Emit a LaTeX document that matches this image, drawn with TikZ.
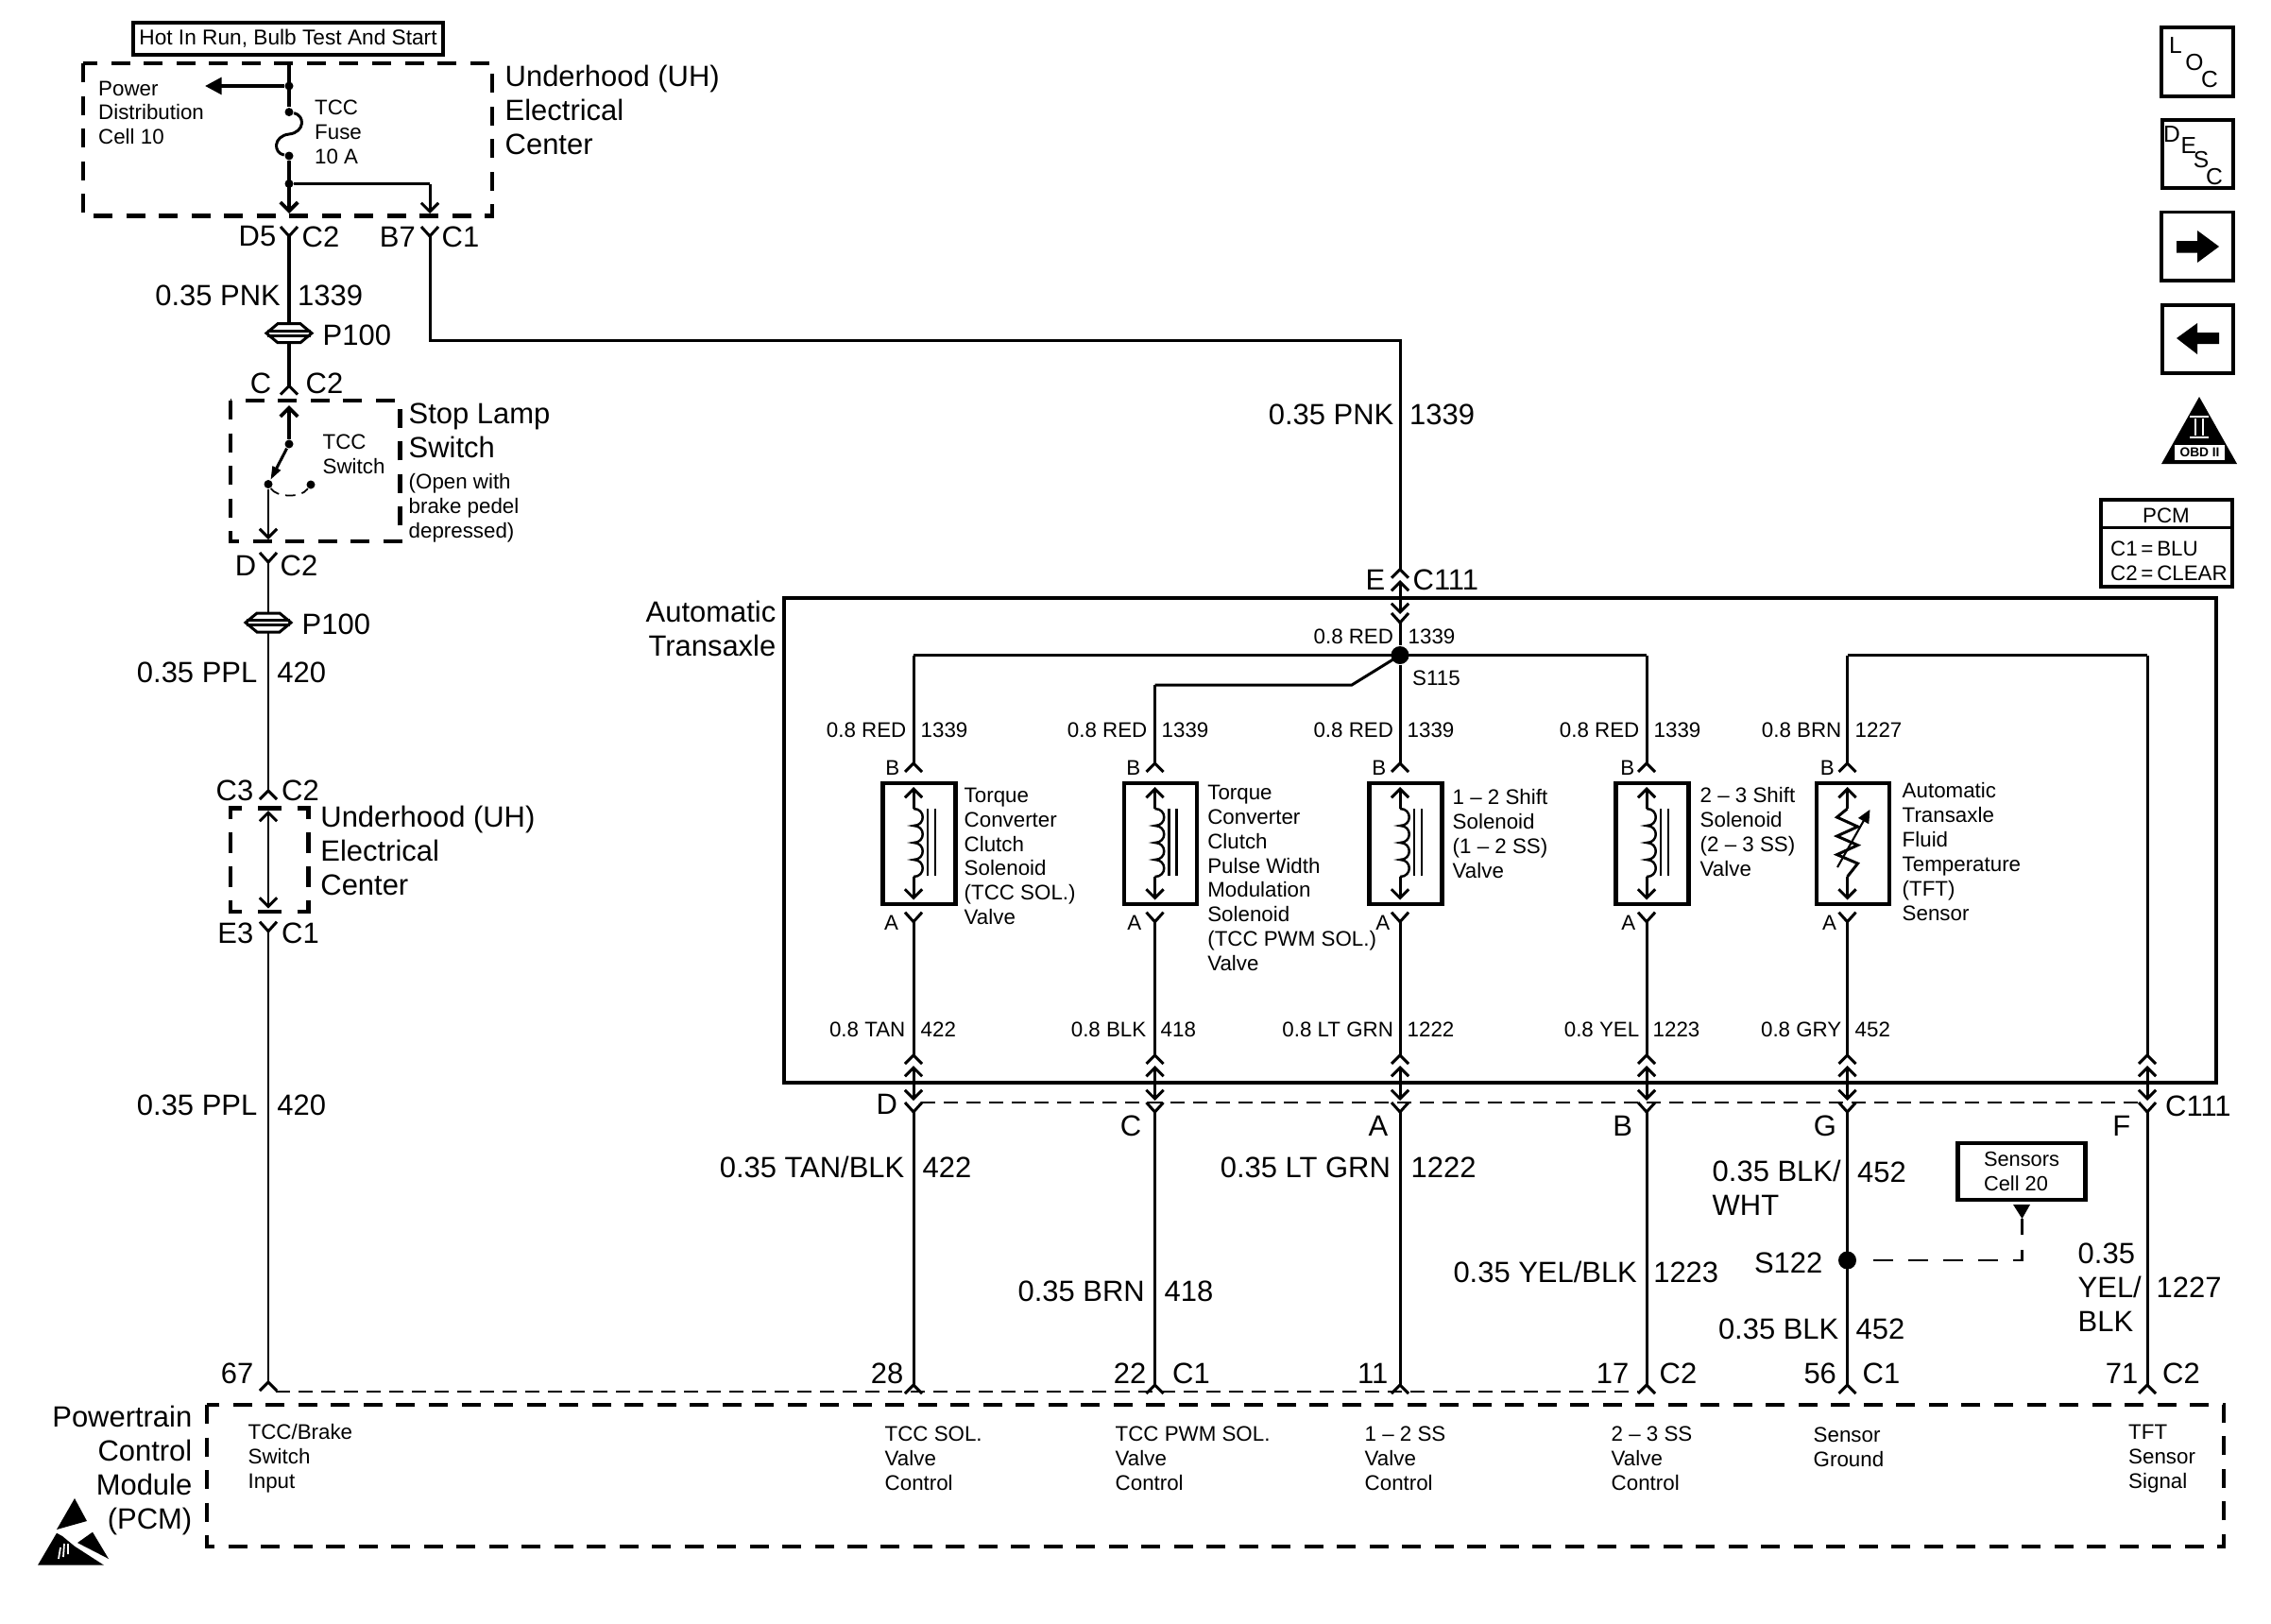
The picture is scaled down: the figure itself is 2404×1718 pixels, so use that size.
\documentclass[tikz,border=0pt]{standalone}
\usepackage{fontspec}
\setmainfont{Liberation Sans}
\usetikzlibrary{arrows.meta, positioning}

\tikzset{
    wire/.style={line width=0.85pt},
    buswire/.style={line width=1.1pt},
    thindash/.style={line width=0.55pt, dash pattern=on 0.15cm off 0.09cm},
    heavydash/.style={line width=1.35pt, dash pattern=on 0.2cm off 0.145cm},
    stubdash/.style={line width=0.75pt, dash pattern=on 0.21cm off 0.16cm},
    heavybox/.style={draw, line width=1.2pt, inner sep=0pt},
    smalltxt/.style={inner sep=0pt, yshift=-0.4pt, align=left, font=\fontsize{6.35}{7.35}\selectfont},
    bigtxt/.style={inner sep=0pt, yshift=-0.4pt, align=left, font=\fontsize{8.8}{10.2}\selectfont},
    icontxt/.style={inner sep=0pt, font=\fontsize{7}{8}\selectfont},
    opentip/.style={-{Straight Barb[length=2.6pt,width=5.2pt]}},
    bothtip/.style={{Straight Barb[length=2.6pt,width=5.2pt]}-{Straight Barb[length=2.6pt,width=5.2pt]}},
    solidtip/.style={-{Triangle[length=5pt,width=5pt]}},
    bladetip/.style={-{Triangle[length=4pt,width=2.6pt]}},
    dotjoin/.style={circle, fill, inner sep=0pt, minimum size=0.09cm},
    splicedot/.style={circle, fill, inner sep=0pt, minimum size=0.19cm},
    solbox/.style={heavybox, minimum width=0.77cm, minimum height=1.28cm},
    plugnode/.style={inner sep=0pt, minimum width=0.48cm, minimum height=0.2cm},
    chevtop/.pic={\draw[wire] (-9,9) -- (0,0) -- (9,9);},
    chevjoin/.pic={\draw[wire] (-9,-10) -- (0,0) -- (9,-10);},
    plugsym/.pic={
        \draw[wire] (-12,-10) -- (12,-10) -- (24,0) -- (12,10) -- (-12,10) -- (-24,0) -- cycle;
        \draw[wire] (-23,-2.5) -- (23,-2.5) (-23,2.5) -- (23,2.5);
    },
    solcoil/.pic={
        \draw[line width=0.7pt] (0,0) .. controls (13,0) and (13,18) .. (0,18)
            .. controls (13,18) and (13,36) .. (0,36)
            .. controls (13,36) and (13,54) .. (0,54)
            .. controls (13,54) and (13,72) .. (0,72);
        \draw[line width=0.7pt] (15,0) -- (15,71) (23,0) -- (23,71);
    }
}

\begin{document}
\begin{tikzpicture}[x=0.01cm, y=-0.01cm]
    \useasboundingbox (0,0) rectangle (2404,1718);

    % underhood fuse block
    \node[heavybox, minimum width=3.28cm, minimum height=0.34cm, font=\fontsize{6.45}{7.35}\selectfont] (hotlabel) at (305,41) {Hot In Run, Bulb Test And Start};
    \draw[heavydash] (88,67) rectangle (521,228.5);
    \coordinate (fusetop) at (306,67);
    \node[dotjoin] (powerjoin) at (306,91) {};
    \coordinate (powertip) at (217,91);
    \node[dotjoin] (fusea) at (306,118.6) {};
    \node[dotjoin] (fuseb) at (306,165) {};
    \node[dotjoin] (branchjoin) at (306,194.5) {};
    \coordinate (branchcorner) at (455,194.5);
    \coordinate (d5tip) at (306,226);
    \coordinate (b7tip) at (455,226);
    \coordinate (d5y) at (306,250);
    \coordinate (b7y) at (455,250);
    \draw[buswire] (fusetop) -- (fusea);
    \draw[buswire, solidtip] (powerjoin) -- (powertip);
    \draw[wire] (fusea) .. controls (323,122) and (323,140) .. (306,142) .. controls (289,144) and (289,162) .. (fuseb);
    \draw[buswire, opentip] (fuseb) -- (d5tip);
    \draw[wire] (branchjoin) -- (branchcorner);
    \draw[wire, opentip] (branchcorner) -- (b7tip);
    \pic at (d5y) {chevjoin};
    \pic at (b7y) {chevjoin};
    \node[smalltxt, anchor=west] (powerlabel) at (103.5,118) {Power\\Distribution\\Cell 10};
    \node[smalltxt, anchor=west] (fuselabel) at (332.5,138.5) {TCC\\Fuse\\10 A};
    \node[bigtxt, anchor=west] (uhlabel) at (534,115) {Underhood (UH)\\Electrical\\Center};
    \node[bigtxt, anchor=east] (lblD5) at (293,249) {D5};
    \node[bigtxt, anchor=west] (lblC2a) at (319,249) {C2};
    \node[bigtxt, anchor=east] (lblB7) at (440.5,249) {B7};
    \node[bigtxt, anchor=west] (lblC1a) at (467,249) {C1};

    % stop lamp switch
    \node[bigtxt, anchor=east] (lblPnk) at (297.5,311) {0.35 PNK};
    \node[bigtxt, anchor=west] (lblPnkNo) at (314.5,311) {1339};
    \node[plugnode] (plugA) at (306,352.7) {};
    \pic at (plugA) {plugsym};
    \node[bigtxt, anchor=west] (lblPlugA) at (341,353) {P100};
    \coordinate (capC) at (306,408.5);
    \draw[buswire] (d5y) -- (plugA.north);
    \draw[buswire] (plugA.south) -- (capC);
    \pic at (capC) {chevtop};
    \node[bigtxt, anchor=east] (lblC) at (288,404) {C};
    \node[bigtxt, anchor=west] (lblC2b) at (323,404) {C2};
    \draw[heavydash] (244,424) rectangle (423.5,573);
    \coordinate (swtip) at (306,429);
    \node[dotjoin] (swpivot) at (306,470) {};
    \node[dotjoin] (swclosed) at (284,512.5) {};
    \node[dotjoin] (swopen) at (329,513) {};
    \coordinate (swouttip) at (284,571);
    \coordinate (dy) at (284,595);
    \draw[buswire, opentip] (swpivot) -- (swtip);
    \draw[wire, bladetip] (swpivot) -- (swclosed);
    \draw[wire, opentip] (swclosed) -- (swouttip);
    \draw[line width=0.5pt, densely dashed] (swclosed) .. controls (292,526) and (318,528) .. (swopen);
    \pic at (dy) {chevjoin};
    \node[smalltxt, anchor=west] (switchlabel) at (341,479) {TCC\\Switch};
    \node[bigtxt, anchor=west] (stoplabel) at (432,454) {Stop Lamp\\Switch};
    \node[smalltxt, anchor=west] (openlabel) at (432,536) {(Open with\\brake pedel\\depressed)};
    \node[bigtxt, anchor=east] (lblD) at (272,597) {D};
    \node[bigtxt, anchor=west] (lblC2c) at (296,597) {C2};

    % second underhood block
    \node[plugnode] (plugB) at (284,659) {};
    \pic at (plugB) {plugsym};
    \node[bigtxt, anchor=west] (lblPlugB) at (319,659) {P100};
    \node[bigtxt, anchor=east] (lblPplA) at (273,710) {0.35 PPL};
    \node[bigtxt, anchor=west] (lblPplNoA) at (292.7,710) {420};
    \coordinate (capC3) at (284,837);
    \draw[wire] (dy) -- (plugB.north);
    \draw[wire] (plugB.south) -- (capC3);
    \pic at (capC3) {chevtop};
    \node[bigtxt, anchor=east] (lblC3) at (269,835) {C3};
    \node[bigtxt, anchor=west] (lblC2d) at (297.5,835) {C2};
    \coordinate (uhtoptip) at (284,858);
    \coordinate (uhbottip) at (284,961.5);
    \draw[wire, bothtip] (uhtoptip) -- (uhbottip);
    \draw[line width=1.35pt] (244,867) -- (244,855.5) -- (256,855.5) (273,855.5) -- (297.5,855.5) (314.5,855.5) -- (326.6,855.5) -- (326.6,867)
        (244,880.6) -- (244,903) (244,916.8) -- (244,939) (326.6,880.6) -- (326.6,903) (326.6,916.8) -- (326.6,939)
        (244,953) -- (244,965) -- (256,965) (273,965) -- (297.5,965) (314.5,965) -- (326.6,965) -- (326.6,953);
    \node[bigtxt, anchor=west] (uhlabelb) at (338.7,899) {Underhood (UH)\\Electrical\\Center};
    \coordinate (e3y) at (284,985.7);
    \pic at (e3y) {chevjoin};
    \node[bigtxt, anchor=east] (lblE3) at (269,986) {E3};
    \node[bigtxt, anchor=west] (lblC1b) at (297.5,986) {C1};
    \coordinate (cap67) at (284,1463);
    \draw[wire] (e3y) -- (cap67);
    \pic at (cap67) {chevtop};
    \node[bigtxt, anchor=east] (lblPplB) at (273,1168) {0.35 PPL};
    \node[bigtxt, anchor=west] (lblPplNoB) at (292.7,1168) {420};
    \node[bigtxt, anchor=east] (lbl67) at (269,1452.7) {67};

    % transaxle and feed
    \draw[line width=1.3pt] (830,633) rectangle (2346,1146);
    \node[bigtxt, anchor=east, align=right] (axlelabel) at (822,664) {Automatic\\Transaxle};
    \coordinate (feedcorner) at (455,360);
    \coordinate (feedturn) at (1482,360);
    \coordinate (capE) at (1482,602.7);
    \coordinate (etiptop) at (1482,614);
    \coordinate (etipbot) at (1482,650);
    \coordinate (ey) at (1482,659);
    \node[splicedot] (s115) at (1482,693.5) {};
    \draw[wire] (b7y) -- (feedcorner) -- (feedturn) -- (capE);
    \pic at (capE) {chevtop};
    \draw[wire, bothtip] (etiptop) -- (etipbot);
    \pic at (ey) {chevjoin};
    \draw[wire] (ey) -- (s115);
    \node[bigtxt, anchor=east] (lblFeed) at (1476,437) {0.35 PNK};
    \node[bigtxt, anchor=west] (lblFeedNo) at (1491.5,437) {1339};
    \node[bigtxt, anchor=east] (lblE) at (1467,612) {E};
    \node[bigtxt, anchor=west] (lblC111a) at (1495,612) {C111};
    \node[smalltxt, anchor=east] (lblRedTop) at (1475.7,672.6) {0.8 RED};
    \node[smalltxt, anchor=west] (lblRedTopNo) at (1490,672.6) {1339};
    \node[smalltxt, anchor=west] (lblS115) at (1494.5,716) {S115};

    % solenoid columns
    \foreach \s/\cx in {a/967,b/1222.5,c/1482,d/1743,e/1955.5} {
        \node[solbox] (box\s) at (\cx+6,893) {};
        \coordinate (capB\s) at (\cx,808);
        \coordinate (tipB\s) at (\cx,833);
        \coordinate (coil\s) at (\cx,856);
        \coordinate (coilend\s) at (\cx,928);
        \coordinate (tipA\s) at (\cx,952.5);
        \coordinate (yA\s) at (\cx,975.7);
        \pic at (capB\s) {chevtop};
        \pic at (yA\s) {chevjoin};
        \draw[wire, opentip] (coil\s) -- (tipB\s);
        \draw[wire, opentip] (coilend\s) -- (tipA\s);
    }
    \foreach \s in {a,b,c,d} {
        \pic at (coil\s) {solcoil};
    }
    \coordinate (topa) at (967,693.5);
    \coordinate (topd) at (1743,693.5);
    \coordinate (tope) at (1955.5,693.5);
    \coordinate (topf) at (2273,693.5);
    \coordinate (topb) at (1222.5,725);
    \coordinate (kneeb) at (1431,725);
    \draw[buswire] (topa) -- (topd);
    \draw[buswire] (tope) -- (topf);
    \draw[wire] (topa) -- (capBa);
    \draw[wire] (topd) -- (capBd);
    \draw[wire] (tope) -- (capBe);
    \draw[wire] (s115) -- (capBc);
    \draw[wire] (s115.center) -- (kneeb) -- (topb);
    \draw[wire] (topb) -- (capBb);

    % sensor element
    \draw[wire] (coile) -- ++(-11,9) -- ++(22,10) -- ++(-22,10) -- ++(22,9.6) -- ++(-22,10) -- ++(22,9.4) -- (coilende);
    \draw[line width=0.6pt, -{Triangle[length=4pt,width=3.5pt]}] (1945,918) -- (1979.5,856.8);

    % C111 row
    \foreach \s/\cx in {a/967,b/1222.5,c/1482,d/1743,e/1955.5,f/2273} {
        \coordinate (cap\s) at (\cx,1117);
        \coordinate (tipup\s) at (\cx,1128);
        \coordinate (tipdn\s) at (\cx,1165);
        \coordinate (yB\s) at (\cx,1177);
        \coordinate (pin\s) at (\cx,1466);
        \pic at (cap\s) {chevtop};
        \pic at (yB\s) {chevjoin};
        \pic at (pin\s) {chevtop};
        \draw[wire, bothtip] (tipup\s) -- (tipdn\s);
    }
    \foreach \s in {a,b,c,d,e} {
        \draw[wire] (yA\s) -- (cap\s);
    }
    \foreach \s in {a,b,c,d,e,f} {
        \draw[wire] (yB\s) -- (pin\s);
    }
    \draw[wire] (topf) -- (capf);
    \coordinate (c111left) at (975,1167);
    \coordinate (c111right) at (2264,1167);
    \coordinate (pcmdashl) at (292,1473);
    \coordinate (pcmdashr) at (1734,1473);
    \draw[thindash] (c111left) -- (c111right);
    \draw[thindash] (pcmdashl) -- (pcmdashr);

    % wire labels inside the transaxle
    \foreach \n/\lx/\rx/\ly/\ltxt/\rtxt in {
        ra/960/974/771/0.8 RED/1339, rb/1215/1229/771/0.8 RED/1339, rc/1475.6/1489/771/0.8 RED/1339,
        rd/1736/1750/771/0.8 RED/1339, re/1950/1963/771/0.8 BRN/1227,
        la/959/974/1088/0.8 TAN/422, lb/1214/1228/1088/0.8 BLK/418, lc/1475.6/1489/1088/0.8 LT GRN/1222,
        ld/1736/1749/1088/0.8 YEL/1223, le/1950/1963/1088/0.8 GRY/452} {
        \node[smalltxt, anchor=east] (wl\n) at (\lx,\ly) {\ltxt};
        \node[smalltxt, anchor=west] (wn\n) at (\rx,\ly) {\rtxt};
    }
    \foreach \n/\bx/\ax/\ay in {a/953/951.6/975.7, b/1208/1209/975.7, c/1468/1472/975.7, d/1731/1732/975.7, e/1942.5/1944.6/975.7} {
        \node[smalltxt, anchor=east] (pinB\n) at (\bx,811) {B};
        \node[smalltxt, anchor=east] (pinA\n) at (\ax,\ay) {A};
    }
    \node[smalltxt, anchor=west] (txta) at (1020,905) {Torque\\Converter\\Clutch\\Solenoid\\(TCC SOL.)\\Valve};
    \node[smalltxt, anchor=west] (txtb) at (1277.6,928) {Torque\\Converter\\Clutch\\Pulse Width\\Modulation\\Solenoid\\(TCC PWM SOL.)\\Valve};
    \node[smalltxt, anchor=west] (txtc) at (1537,881) {1 -- 2 Shift\\Solenoid\\(1 -- 2 SS)\\Valve};
    \node[smalltxt, anchor=west] (txtd) at (1799,879) {2 -- 3 Shift\\Solenoid\\(2 -- 3 SS)\\Valve};
    \node[smalltxt, anchor=west] (txte) at (2013,900) {Automatic\\Transaxle\\Fluid\\Temperature\\(TFT)\\Sensor};

    % labels between C111 and the PCM
    \foreach \n/\px/\py/\ptxt in {a/950.7/1167/D, b/1209/1190/C, c/1470/1190/A, d/1728.7/1190/B, e/1944.6/1190/G, f/2256/1190/F} {
        \node[bigtxt, anchor=east] (lblpin\n) at (\px,\py) {\ptxt};
    }
    \node[bigtxt, anchor=west] (lblC111b) at (2291.5,1169) {C111};
    \node[bigtxt, anchor=east] (lblTan) at (958,1234) {0.35 TAN/BLK};
    \node[bigtxt, anchor=west] (lblTanNo) at (976,1234) {422};
    \node[bigtxt, anchor=east] (lblBrn) at (1212.5,1365) {0.35 BRN};
    \node[bigtxt, anchor=west] (lblBrnNo) at (1232,1365) {418};
    \node[bigtxt, anchor=east] (lblGrn) at (1472.6,1234) {0.35 LT GRN};
    \node[bigtxt, anchor=west] (lblGrnNo) at (1493,1234) {1222};
    \node[bigtxt, anchor=east] (lblYel) at (1733.6,1345) {0.35 YEL/BLK};
    \node[bigtxt, anchor=west] (lblYelNo) at (1749.6,1345) {1223};
    \node[bigtxt, anchor=west] (lblWht) at (1812,1256) {0.35 BLK/\\WHT};
    \node[bigtxt, anchor=west] (lblWhtNo) at (1965.5,1239) {452};
    \node[bigtxt, anchor=east] (lblS122) at (1930,1335) {S122};
    \node[splicedot] (s122) at (1955.5,1334) {};
    \node[bigtxt, anchor=east] (lblBlk) at (1947,1405.7) {0.35 BLK};
    \node[bigtxt, anchor=west] (lblBlkNo) at (1964,1405.7) {452};
    \node[bigtxt, anchor=west] (lblYelB) at (2199,1361) {0.35\\YEL/\\BLK};
    \node[bigtxt, anchor=west] (lblYelBNo) at (2282,1361.7) {1227};
    \foreach \n/\px/\ptxt in {a/957/28, b/1214/22, c/1470/11, d/1725/17, e/1944.6/56, f/2264/71} {
        \node[bigtxt, anchor=east] (no\n) at (\px,1452.7) {\ptxt};
    }
    \foreach \n/\px/\ptxt in {b/1240.5/C1, d/1756/C2, e/1971/C1, f/2288.5/C2} {
        \node[bigtxt, anchor=west] (conn\n) at (\px,1452.7) {\ptxt};
    }

    % sensors reference
    \node[heavybox, minimum width=1.35cm, minimum height=0.6cm, align=left, font=\fontsize{6.2}{7.35}\selectfont] (sensorbox) at (2140,1240) {Sensors\\Cell 20};
    \coordinate (stubcorner) at (2140.5,1334);
    \coordinate (stubstart) at (1982.6,1334);
    \coordinate (stubend) at (2140.5,1290);
    \draw[stubdash] (stubstart) -- (stubcorner) -- (stubend);
    \fill (2131,1275) -- (2149,1275) -- (stubend) -- cycle;

    % PCM
    \draw[heavydash] (219,1487) rectangle (2354,1637);
    \node[bigtxt, anchor=east, align=right] (pcmlabel) at (204,1555) {Powertrain\\Control\\Module\\(PCM)};
    \node[smalltxt, anchor=west] (pcma) at (262,1542.5) {TCC/Brake\\Switch\\Input};
    \node[smalltxt, anchor=west] (pcmb) at (936,1542.5) {TCC SOL.\\Valve\\Control};
    \node[smalltxt, anchor=west] (pcmc) at (1180,1542.5) {TCC PWM SOL.\\Valve\\Control};
    \node[smalltxt, anchor=west] (pcmd) at (1444,1542.5) {1 -- 2 SS\\Valve\\Control};
    \node[smalltxt, anchor=west] (pcme) at (1705,1542.5) {2 -- 3 SS\\Valve\\Control};
    \node[smalltxt, anchor=west] (pcmf) at (1919,1530) {Sensor\\Ground};
    \node[smalltxt, anchor=west] (pcmg) at (2252.5,1542.5) {TFT\\Sensor\\Signal};

    % static warning mark
    \fill (79,1586) -- (92,1610) -- (60,1619) -- cycle;
    \fill (60,1622.7) -- (40,1656.7) -- (110,1656.7) -- (79,1636.7) -- (66,1626) -- cycle;
    \fill (98,1621.7) -- (115,1650) -- (82,1633) -- cycle;
    \draw[white, line width=0.5pt] (62,1650) -- (64,1638) (67,1648) -- (68,1634) (72,1645) -- (72,1634);

    % side icons
    \draw[line width=1.1pt] (2288,29) rectangle (2364,102);
    \node[icontxt] (locl) at (2303,48) {L};
    \node[icontxt] (loco) at (2323,66.5) {O};
    \node[icontxt] (locc) at (2339,83.7) {C};
    \draw[line width=1.1pt] (2289,127) rectangle (2364,199);
    \node[icontxt] (descd) at (2299,141.6) {D};
    \node[icontxt] (desce) at (2316.7,154) {E};
    \node[icontxt] (descs) at (2330,169) {S};
    \node[icontxt] (descc) at (2344,187) {C};
    \draw[line width=1.1pt] (2288,224.5) rectangle (2364,296.7);
    \fill (2304,255) -- (2326,255) -- (2326,244) -- (2349,261) -- (2326,278) -- (2326,267.5) -- (2304,267.5) -- cycle;
    \draw[line width=1.1pt] (2289,323) rectangle (2364,395);
    \fill (2349,352) -- (2326,352) -- (2326,342) -- (2304,358) -- (2326,375) -- (2326,364) -- (2349,364) -- cycle;
    \fill (2328,420) -- (2368,491) -- (2288,491) -- cycle;
    \draw[white, line width=0.6pt] (2318,441) -- (2338,441) (2318,463) -- (2338,463);
    \draw[white, line width=0.8pt] (2324,443) -- (2324,461) (2332,443) -- (2332,461);
    \node[fill=white, inner sep=0pt, minimum width=0.53cm, minimum height=0.16cm, font=\fontsize{3.9}{4}\selectfont\bfseries] (obdlabel) at (2328.5,479) {OBD II};
    \node[heavybox, minimum width=1.39cm, minimum height=0.92cm] (pcmtable) at (2293.5,575) {};
    \coordinate (tablesepl) at (2224,558);
    \coordinate (tablesepr) at (2363,558);
    \draw[wire] (tablesepl) -- (tablesepr);
    \node[smalltxt] (tablehead) at (2293,544) {PCM};
    \node[smalltxt, anchor=west] (tablea) at (2233.5,579) {C1\,=\,BLU};
    \node[smalltxt, anchor=west] (tableb) at (2233.5,605) {C2\,=\,CLEAR};
\end{tikzpicture}
\end{document}
